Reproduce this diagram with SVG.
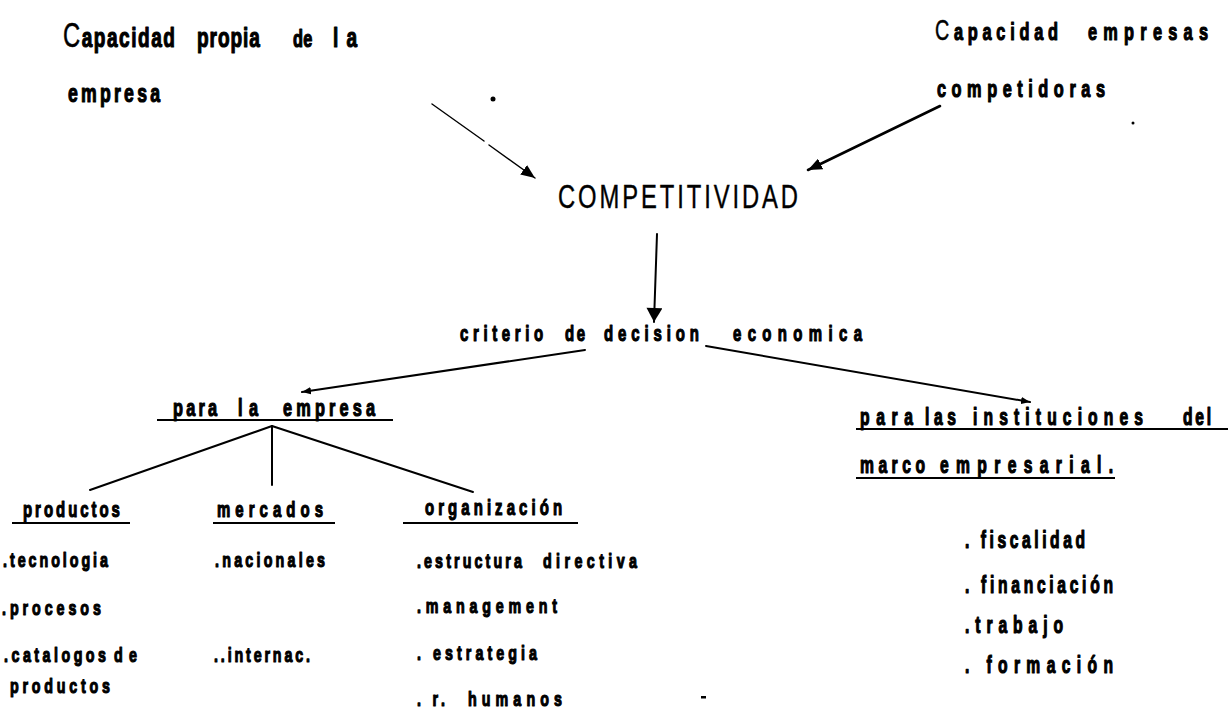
<svg xmlns="http://www.w3.org/2000/svg" width="1228" height="709" viewBox="0 0 1228 709">
<style>
.t{font-family:"Liberation Sans",Arial,sans-serif;font-weight:bold;fill:#000;stroke:#000;stroke-width:1.2;stroke-linejoin:round}
.r{font-family:"Liberation Sans",Arial,sans-serif;font-weight:normal;fill:#000;stroke:#000;stroke-width:0.4}
.ln{stroke:#000;fill:none;stroke-linecap:round}
.ul{stroke:#000;stroke-width:2;fill:none}
.f21{font-size:21px}.f22{font-size:22px}.f23{font-size:23px}.f24{font-size:24px}.f26{font-size:26px}.f28{font-size:28px}
.cap{font-weight:normal;stroke-width:0.5}
</style>
<defs>
<marker id="ahB" viewBox="0 0 12 10" refX="12" refY="5" markerWidth="14" markerHeight="12" markerUnits="userSpaceOnUse" orient="auto"><path d="M0,0 L12,5 L0,10 Z" fill="#000"/></marker>
<marker id="ahV" viewBox="0 0 14 16" refX="14" refY="8" markerWidth="15" markerHeight="16" markerUnits="userSpaceOnUse" orient="auto"><path d="M0,0 L14,8 L0,16 Z" fill="#000"/></marker>
<marker id="ahS" viewBox="0 0 10 8" refX="10" refY="4" markerWidth="9" markerHeight="8" markerUnits="userSpaceOnUse" orient="auto"><path d="M0,0 L10,4 L0,8 Z" fill="#000"/></marker>
</defs>
<rect width="1228" height="709" fill="#fff"/>

<g id="connectors">
<path class="ln" stroke-width="1.4" d="M432,104 L484,141 M489,145 L535,178" marker-end="url(#ahB)"/>
<path class="ln" stroke-width="2.6" d="M940,106 L808,170" marker-end="url(#ahB)"/>
<path class="ln" stroke-width="2" d="M657,234 L654,322" marker-end="url(#ahV)"/>
<path class="ln" stroke-width="2" d="M585,350 L302,392" marker-end="url(#ahS)"/>
<path class="ln" stroke-width="2" d="M706,346 L1030,402" marker-end="url(#ahS)"/>
<path class="ln" stroke-width="2" d="M272,426 L90,490"/>
<path class="ln" stroke-width="2" d="M272,427 L272,485"/>
<path class="ln" stroke-width="2" d="M272,426 L473,492"/>
</g>

<g id="capacidad-propia">
<text class="t f28" y="47" transform="scale(0.68,1)"><tspan x="92.6" textLength="164.7" lengthAdjust="spacing"><tspan class="cap" style="font-size:35px">C</tspan>apacidad</tspan> <tspan x="289.7" textLength="92.6" lengthAdjust="spacing">propia</tspan> <tspan x="430.9" textLength="28.5" lengthAdjust="spacing" style="font-size:24px">de</tspan> <tspan x="489.7" textLength="35.3" lengthAdjust="spacing">la</tspan></text>
<text class="t f26" x="100" y="102" textLength="135.3" lengthAdjust="spacing" transform="scale(0.68,1)">empresa</text>
</g>

<g id="capacidad-competidoras">
<text class="t f24" y="40" transform="scale(0.68,1)"><tspan x="1375" textLength="180.9" lengthAdjust="spacing"><tspan class="cap" style="font-size:29px">C</tspan>apacidad</tspan> <tspan x="1600" textLength="176.5" lengthAdjust="spacing">empresas</tspan></text>
<text class="t f24" x="1377.9" y="97" textLength="247.1" lengthAdjust="spacing" transform="scale(0.68,1)">competidoras</text>
</g>

<g id="competitividad">
<text class="r" style="font-size:34px" x="797.1" y="208" textLength="342.9" lengthAdjust="spacing" transform="scale(0.7,1)">COMPETITIVIDAD</text>
</g>

<g id="criterio">
<text class="t f22" y="341" transform="scale(0.68,1)"><tspan x="676.5" textLength="122.1" lengthAdjust="spacing">criterio</tspan> <tspan x="830.9" textLength="29.4" lengthAdjust="spacing">de</tspan> <tspan x="888.2" textLength="139.7" lengthAdjust="spacing">decision</tspan> <tspan x="1077.9" textLength="189.7" lengthAdjust="spacing">economica</tspan></text>
</g>

<g id="para-la-empresa">
<text class="t f24" y="416" transform="scale(0.68,1)"><tspan x="254.4" textLength="64.7" lengthAdjust="spacing">para</tspan> <tspan x="350" textLength="29.4" lengthAdjust="spacing">la</tspan> <tspan x="416.2" textLength="135.3" lengthAdjust="spacing">empresa</tspan></text>
<line class="ul" x1="157" y1="420" x2="393" y2="420"/>
</g>

<g id="productos">
<text class="t f22" x="33.8" y="517" textLength="142.6" lengthAdjust="spacing" transform="scale(0.68,1)">productos</text>
<line class="ul" x1="12" y1="523" x2="130" y2="523"/>
<text class="t f21" x="4.4" y="567" textLength="154.4" lengthAdjust="spacing" transform="scale(0.68,1)">.tecnologia</text>
<text class="t f21" x="2.9" y="615" textLength="145.6" lengthAdjust="spacing" transform="scale(0.68,1)">.procesos</text>
<text class="t f21" y="662" transform="scale(0.68,1)"><tspan x="5.9" textLength="150" lengthAdjust="spacing">.catalogos</tspan> <tspan x="167.6" textLength="33.8" lengthAdjust="spacing">de</tspan></text>
<text class="t f21" x="14.7" y="693" textLength="147.1" lengthAdjust="spacing" transform="scale(0.68,1)">productos</text>
</g>

<g id="mercados">
<text class="t f22" x="319.1" y="517" textLength="155.9" lengthAdjust="spacing" transform="scale(0.68,1)">mercados</text>
<line class="ul" x1="213" y1="523" x2="335" y2="523"/>
<text class="t f21" x="316.2" y="567" textLength="161.8" lengthAdjust="spacing" transform="scale(0.68,1)">.nacionales</text>
<text class="t f21" x="314.7" y="662" textLength="141.2" lengthAdjust="spacing" transform="scale(0.68,1)">..internac.</text>
</g>

<g id="organizacion">
<text class="t f22" x="625" y="515" textLength="201.5" lengthAdjust="spacing" transform="scale(0.68,1)">organización</text>
<line class="ul" x1="403" y1="523" x2="578" y2="523"/>
<text class="t f21" y="568" transform="scale(0.68,1)"><tspan x="613.2" textLength="154.4" lengthAdjust="spacing">.estructura</tspan> <tspan x="798.5" textLength="138.2" lengthAdjust="spacing">directiva</tspan></text>
<text class="t f21" x="613.2" y="613" textLength="205.9" lengthAdjust="spacing" transform="scale(0.68,1)">.management</text>
<text class="t f21" x="613.2" y="660" textLength="176.5" lengthAdjust="spacing" transform="scale(0.68,1)">. estrategia</text>
<text class="t f21" y="706" transform="scale(0.68,1)"><tspan x="613.2" textLength="41.2" lengthAdjust="spacing">. r.</tspan> <tspan x="688.2" textLength="138.2" lengthAdjust="spacing">humanos</tspan></text>
</g>

<g id="instituciones">
<text class="t f23" y="425" transform="scale(0.68,1)"><tspan x="1264.7" textLength="77.9" lengthAdjust="spacing">para</tspan> <tspan x="1360.3" textLength="45.6" lengthAdjust="spacing">las</tspan> <tspan x="1430.9" textLength="250" lengthAdjust="spacing">instituciones</tspan> <tspan x="1739.7" textLength="41.2" lengthAdjust="spacing">del</tspan></text>
<line class="ul" x1="856" y1="429" x2="1228" y2="429"/>
<text class="t f23" y="473" transform="scale(0.68,1)"><tspan x="1264.7" textLength="95.6" lengthAdjust="spacing">marco</tspan> <tspan x="1382.4" textLength="254.4" lengthAdjust="spacing">empresarial.</tspan></text>
<line class="ul" x1="856" y1="478" x2="1115" y2="478"/>
<text class="t f23" x="1419.1" y="548" textLength="176.5" lengthAdjust="spacing" transform="scale(0.68,1)">. fiscalidad</text>
<text class="t f23" x="1419.1" y="593" textLength="217.6" lengthAdjust="spacing" transform="scale(0.68,1)">. financiación</text>
<text class="t f23" x="1419.1" y="633" textLength="144.1" lengthAdjust="spacing" transform="scale(0.68,1)">.trabajo</text>
<text class="t f23" x="1419.1" y="673" textLength="217.6" lengthAdjust="spacing" transform="scale(0.68,1)">. formación</text>
</g>

<g id="specks" fill="#000">
<circle cx="493" cy="99" r="2.5"/>
<circle cx="1133" cy="123" r="1.5"/>
<rect x="701" y="696" width="5" height="2.5"/>
</g>
</svg>
